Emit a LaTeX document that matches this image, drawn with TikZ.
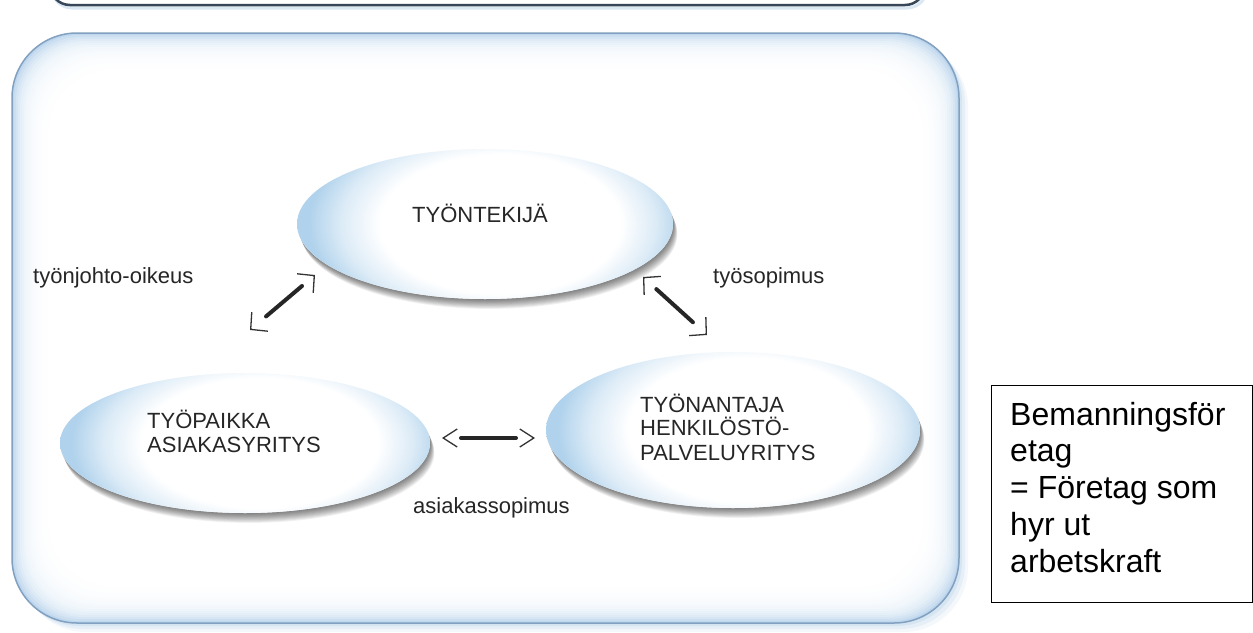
\documentclass[tikz,border=0pt]{standalone}
\usepackage{fontspec}
\setmainfont{Liberation Sans}
\usetikzlibrary{arrows.meta,shapes.geometric,calc}
\definecolor{ellblue}{RGB}{176,210,236}
\definecolor{boxblue}{RGB}{190,215,238}
\definecolor{boxglow}{RGB}{150,190,225}
\definecolor{boxedge}{RGB}{130,160,192}
\definecolor{barcol}{RGB}{55,70,88}
\definecolor{txtgray}{RGB}{38,38,38}
\pgfdeclareradialshading{ellshade}{\pgfpoint{3bp}{0bp}}{color(0bp)=(white); color(16bp)=(white); color(21bp)=(ellblue!45); color(25bp)=(ellblue); color(50bp)=(ellblue)}
\begin{document}
\begin{tikzpicture}[x=1pt,y=-1pt,
  ell/.style n args={2}{ellipse, inner sep=0pt, fill=white,
    minimum width=2*#1pt, minimum height=2*#2pt,
    path picture={\shade[shading=ellshade] (path picture bounding box.center) ellipse [x radius=#1pt, y radius=1.45*#2pt];}},
  lab/.style={font=\fontsize{22}{24}\selectfont, text=txtgray, inner sep=0pt, anchor=base west},
  big/.style={font=\fontsize{32}{37}\selectfont, text=black, inner sep=0pt, anchor=base west},
  relline/.style={line width=4pt, draw=black!85, line cap=round},
  chev/.style={line width=1.3pt, draw=black!80, -{Straight Barb[length=12pt, width=25pt]}},
  chevh/.style={line width=1.3pt, draw=black!80, -{Straight Barb[length=14pt, width=18pt]}}
]
\useasboundingbox (0,0) rectangle (1253,632);
\fill[white] (0,0) rectangle (1253,632);

% top bar (bottom edge of a box cut off)
\begin{scope}
\clip (0,0) rectangle (1253,632);
\draw[boxglow, opacity=0.35, line width=3pt, rounded corners=20pt] (52,-58) rectangle (927,8);
\draw[barcol, line width=2.5pt, fill=white, rounded corners=20pt] (50,-60) rectangle (925,5);
\end{scope}

% main rounded box
\foreach \o/\op in {9/0.10,6/0.14,3/0.2}
  \fill[boxglow, opacity=\op, rounded corners=65pt] (12+\o,33+\o) rectangle (959+\o,623+\o);
\fill[boxblue, rounded corners=65pt] (12,33) rectangle (959,623);
\foreach \i/\p in {2/20,4/36,6/49,8/59,10/67,12/74,14/79,16/83,18/87,20/89,22/91,24/93,26/95,28/96,30/97,32/98,34/99,36/100}
  \fill[white!\p!boxblue, rounded corners=65pt] (12+\i,33+\i) rectangle (959-\i,623-\i);
\draw[boxedge, line width=1.5pt, rounded corners=65pt] (12,33) rectangle (959,623);

% ellipse shadows
\foreach \d in {1,...,11}{
  \fill[black, opacity=0.055] (485+0.4*\d,224+0.9*\d) ellipse [x radius=188pt, y radius=75pt];
  \fill[black, opacity=0.055] (245+0.4*\d,443+0.9*\d) ellipse [x radius=185pt, y radius=70pt];
  \fill[black, opacity=0.055] (733+0.4*\d,430+0.9*\d) ellipse [x radius=187pt, y radius=78pt];
}

% ellipses
\node[ell={188}{75}] (tk) at (485,224) {};
\node[ell={185}{70}] (tp) at (245,443) {};
\node[ell={187}{78}] (ta) at (733,430) {};

% ellipse texts
\node[lab, anchor=base] (t1) at (480,222) {TYÖNTEKIJÄ};
\node[lab] (t2) at (147,428) {TYÖPAIKKA};
\node[lab] (t3) at (147,452) {ASIAKASYRITYS};
\node[lab] (t4) at (640,412) {TYÖNANTAJA};
\node[lab] (t5) at (640,435) {HENKILÖSTÖ-};
\node[lab] (t6) at (640,460) {PALVELUYRITYS};

% relation labels
\node[lab] (l1) at (33,283) {työnjohto-oikeus};
\node[lab] (l2) at (713,283) {työsopimus};
\node[lab] (l3) at (413,513) {asiakassopimus};

% arrows
\coordinate (a1s) at (250,330); \coordinate (a1e) at (315,275);
\draw[relline, shorten <=21pt, shorten >=17pt] (a1s) -- (a1e);
\draw[chev] ($(a1s)!2pt!(a1e)$) -- (a1s);
\draw[chev] ($(a1e)!2pt!(a1s)$) -- (a1e);

\coordinate (a2s) at (643,277); \coordinate (a2e) at (707,335);
\draw[relline, shorten <=18pt, shorten >=19pt] (a2s) -- (a2e);
\draw[chev] ($(a2s)!2pt!(a2e)$) -- (a2s);
\draw[chev] ($(a2e)!2pt!(a2s)$) -- (a2e);

\coordinate (a3s) at (442,438); \coordinate (a3e) at (535,438);
\draw[relline, shorten <=19pt, shorten >=19pt] (a3s) -- (a3e);
\draw[chevh] ($(a3s)!2pt!(a3e)$) -- (a3s);
\draw[chevh] ($(a3e)!2pt!(a3s)$) -- (a3e);

% definition box
\node[draw=black, line width=1.3pt, inner sep=0pt, minimum width=261pt, minimum height=217pt, anchor=north west] (def) at (990.5,385) {};
\node[big] (b1) at (1010,425) {Bemanningsför};
\node[big] (b2) at (1010,461.75) {etag};
\node[big] (b3) at (1010,498.5) {= Företag som};
\node[big] (b4) at (1010,535.25) {hyr ut};
\node[big] (b5) at (1010,572) {arbetskraft};
\end{tikzpicture}
\end{document}
